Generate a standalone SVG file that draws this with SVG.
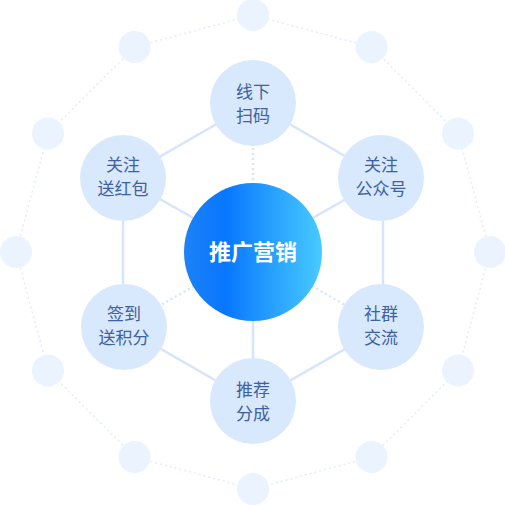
<svg xmlns="http://www.w3.org/2000/svg" width="505" height="505" viewBox="0 0 505 505">
<defs>
<linearGradient id="g" x1="0" y1="0" x2="1" y2="0">
<stop offset="0" stop-color="#1C82F6"/>
<stop offset="0.3" stop-color="#0877FF"/>
<stop offset="1" stop-color="#48CBFF"/>
</linearGradient>
<style>
.dot{fill:#EBF3FE}
.ring{stroke:#E2ECFB;stroke-width:1.5;stroke-dasharray:2 3;fill:none}
.solid{stroke:#D6E5FB;stroke-width:2.5;fill:none}
.dash{stroke:#D6E5FB;stroke-width:2.5;stroke-dasharray:2 3;fill:none}
.node{fill:#D8E8FD}
.t{font-family:"Noto Sans CJK SC","Noto Sans",sans-serif;font-size:17px;fill:#40619C;text-anchor:middle}
.c{font-family:"Noto Sans CJK SC","Noto Sans",sans-serif;font-size:22px;font-weight:bold;fill:#FFFFFF;text-anchor:middle}
</style>
</defs>
<rect width="505" height="505" fill="#FFFFFF"/>
<g id="connectors">
<polygon class="ring" points="253,15 371.5,47 458,133.5 490,252 458,370.5 371.5,457 253,489 134.5,457 48,370.5 16,252 48,133.5 134.5,47"/>
<polyline class="solid" points="253,103 123,178 123,327 253,402 383,327 383,178 253,103"/>
<line class="dash" x1="253" y1="103" x2="253" y2="252"/>
<line class="solid" x1="123" y1="178" x2="253" y2="252"/>
<line class="solid" x1="383" y1="178" x2="253" y2="252"/>
<line class="dash" x1="123" y1="327" x2="253" y2="252"/>
<line class="dash" x1="383" y1="327" x2="253" y2="252"/>
<line class="solid" x1="253" y1="402" x2="253" y2="252"/>
</g>
<g id="outer">
<circle class="dot" cx="253" cy="15" r="16"/>
<circle class="dot" cx="371.5" cy="47" r="16"/>
<circle class="dot" cx="458" cy="133.5" r="16"/>
<circle class="dot" cx="490" cy="252" r="16"/>
<circle class="dot" cx="458" cy="370.5" r="16"/>
<circle class="dot" cx="371.5" cy="457" r="16"/>
<circle class="dot" cx="253" cy="489" r="16"/>
<circle class="dot" cx="134.5" cy="457" r="16"/>
<circle class="dot" cx="48" cy="370.5" r="16"/>
<circle class="dot" cx="16" cy="252" r="16"/>
<circle class="dot" cx="48" cy="133.5" r="16"/>
<circle class="dot" cx="134.5" cy="47" r="16"/>
</g>
<g id="n-top"><circle class="node" cx="253" cy="103" r="43"/><text class="t" x="253" y="98">线下</text><text class="t" x="253" y="122">扫码</text></g>
<g id="n-ul"><circle class="node" cx="123" cy="178" r="43"/><text class="t" x="123" y="171">关注</text><text class="t" x="123" y="195">送红包</text></g>
<g id="n-ur"><circle class="node" cx="381" cy="178" r="43"/><text class="t" x="381" y="171">关注</text><text class="t" x="381" y="195">公众号</text></g>
<g id="n-ll"><circle class="node" cx="124" cy="327" r="43"/><text class="t" x="124" y="320">签到</text><text class="t" x="124" y="344">送积分</text></g>
<g id="n-lr"><circle class="node" cx="381" cy="327" r="43"/><text class="t" x="381" y="320">社群</text><text class="t" x="381" y="344">交流</text></g>
<g id="n-bot"><circle class="node" cx="253" cy="401" r="43"/><text class="t" x="253" y="396">推荐</text><text class="t" x="253" y="420">分成</text></g>
<g id="n-center"><circle cx="253" cy="252" r="69" fill="url(#g)"/><text class="c" x="253" y="260">推广营销</text></g>
</svg>
